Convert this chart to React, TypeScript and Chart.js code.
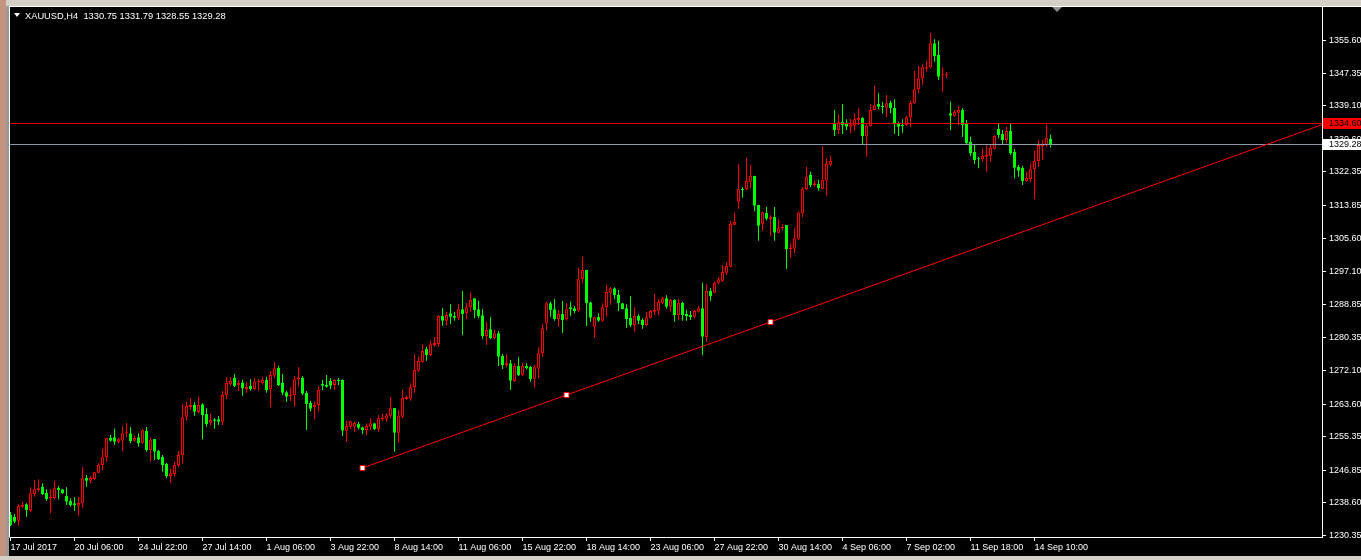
import React, { useEffect, useRef } from "react";
import { Chart, registerables } from "chart.js";

Chart.register(...registerables);

// ---------- data ----------
const symbolTitle = "XAUUSD,H4";
const lastOHLC = ["1330.75", "1331.79", "1328.55", "1329.28"];

const xTickBars = [0, 16, 32, 48, 64, 80, 96, 112, 128, 144, 160, 176, 192, 208, 224, 240, 256];
const xTickLabels = [
  "17 Jul 2017", "20 Jul 06:00", "24 Jul 22:00", "27 Jul 14:00", "1 Aug 06:00", "3 Aug 22:00",
  "8 Aug 14:00", "11 Aug 06:00", "15 Aug 22:00", "18 Aug 14:00", "23 Aug 06:00", "27 Aug 22:00",
  "30 Aug 14:00", "4 Sep 06:00", "7 Sep 02:00", "11 Sep 18:00", "14 Sep 10:00",
];
const yTickValues = [
  1230.35, 1238.6, 1246.85, 1255.35, 1263.6, 1272.1, 1280.35, 1288.85,
  1297.1, 1305.6, 1313.85, 1322.35, 1330.6, 1339.1, 1347.35, 1355.6,
];

const opens = [
  1235.54, 1235.12, 1234.11, 1237.65, 1238.24, 1236.64, 1240.86, 1241.87, 1242.71, 1241.19,
  1239.76, 1239.76, 1242.37, 1242.04, 1240.35, 1239.08, 1238.49, 1237.90, 1238.49, 1244.90,
  1244.23, 1244.57, 1246.25, 1248.19, 1250.13, 1255.11, 1255.19, 1254.10, 1254.35, 1256.20,
  1256.20, 1254.35, 1255.19, 1253.84, 1256.80, 1251.99, 1254.77, 1251.82, 1250.30, 1248.53,
  1245.41, 1245.92, 1248.19, 1250.64, 1260.42, 1262.78, 1263.37, 1261.60, 1263.54, 1261.10,
  1258.90, 1259.75, 1259.75, 1259.16, 1265.90, 1268.60, 1270.29, 1268.35, 1269.02, 1267.34,
  1268.18, 1267.34, 1269.11, 1268.86, 1269.70, 1267.34, 1270.80, 1272.74, 1269.02, 1266.58,
  1265.65, 1265.82, 1269.87, 1270.21, 1266.41, 1263.88, 1262.78, 1263.37, 1268.69, 1268.52,
  1269.45, 1268.43, 1269.78, 1269.70, 1256.88, 1257.89, 1257.89, 1258.57, 1257.72, 1257.05,
  1257.89, 1258.73, 1257.30, 1259.75, 1259.91, 1260.67, 1262.61, 1256.37, 1260.42, 1264.89,
  1264.97, 1267.84, 1272.06, 1274.34, 1277.54, 1276.02, 1278.55, 1278.81, 1285.89, 1284.71,
  1286.57, 1285.89, 1285.47, 1287.58, 1286.57, 1288.08, 1290.36, 1287.58, 1286.06, 1280.83,
  1282.52, 1280.32, 1281.50, 1275.77, 1273.49, 1273.91, 1269.44, 1273.24, 1271.05, 1273.24,
  1273.07, 1270.04, 1272.56, 1276.44, 1284.04, 1289.10, 1287.58, 1285.13, 1286.40, 1285.05,
  1288.08, 1287.83, 1287.24, 1295.17, 1297.53, 1289.35, 1283.19, 1285.72, 1284.71, 1288.08,
  1291.79, 1292.89, 1291.20, 1289.10, 1287.83, 1285.47, 1283.61, 1285.89, 1284.88, 1283.61,
  1285.47, 1286.99, 1287.24, 1289.26, 1290.36, 1288.25, 1289.94, 1286.14, 1289.26, 1286.40,
  1286.14, 1285.72, 1286.99, 1287.83, 1280.49, 1292.22, 1291.80, 1294.33, 1294.84, 1296.86,
  1298.38, 1309.01, 1314.82, 1318.03, 1317.95, 1319.89, 1321.32, 1313.98, 1309.09, 1311.96,
  1310.35, 1310.95, 1306.98, 1308.08, 1308.92, 1302.76, 1302.93, 1305.46, 1311.87, 1317.95,
  1321.57, 1319.04, 1319.30, 1318.11, 1320.14, 1324.19, 1334.48, 1332.96, 1334.98, 1334.64,
  1333.80, 1334.05, 1335.49, 1335.99, 1331.44, 1334.05, 1338.02, 1339.54, 1339.03, 1338.61,
  1339.87, 1338.52, 1334.64, 1334.22, 1334.22, 1336.17, 1339.71, 1343.25, 1346.03, 1348.48,
  1348.81, 1354.89, 1351.93, 1346.79, 1346.79, 1337.17, 1336.58, 1337.34, 1338.02, 1334.48,
  1330.01, 1327.48, 1325.79, 1325.54, 1326.21, 1326.46, 1328.23, 1333.21, 1331.95, 1330.43,
  1332.70, 1327.48, 1323.68, 1323.43, 1320.05, 1320.56, 1323.01, 1325.11, 1328.91, 1329.16,
  1330.75,
];
const highs = [
  1236.30, 1235.79, 1238.24, 1238.92, 1238.49, 1242.54, 1244.40, 1244.57, 1243.55, 1242.04,
  1242.04, 1244.14, 1242.88, 1242.04, 1242.54, 1239.76, 1240.01, 1240.18, 1247.69, 1245.66,
  1245.41, 1246.42, 1248.61, 1252.24, 1255.11, 1255.78, 1257.30, 1255.11, 1258.06, 1258.82,
  1257.72, 1255.53, 1256.20, 1257.22, 1257.81, 1255.19, 1254.77, 1251.99, 1250.72, 1248.78,
  1247.10, 1249.04, 1251.73, 1263.63, 1264.22, 1265.06, 1264.05, 1265.40, 1263.80, 1262.53,
  1261.10, 1260.00, 1260.59, 1266.92, 1270.37, 1270.37, 1271.22, 1269.70, 1269.78, 1269.11,
  1269.87, 1270.29, 1269.87, 1270.54, 1270.54, 1271.98, 1274.25, 1273.33, 1271.22, 1267.00,
  1267.84, 1270.71, 1272.99, 1270.71, 1266.92, 1264.47, 1264.22, 1268.27, 1269.70, 1270.96,
  1270.12, 1269.87, 1270.21, 1269.87, 1259.33, 1259.41, 1259.16, 1259.07, 1257.89, 1258.73,
  1260.00, 1258.73, 1260.76, 1261.09, 1261.26, 1265.31, 1262.61, 1262.11, 1267.17, 1265.65,
  1268.85, 1276.28, 1275.60, 1278.72, 1278.13, 1279.65, 1280.49, 1286.06, 1287.83, 1286.99,
  1288.84, 1286.99, 1288.93, 1292.22, 1289.10, 1291.79, 1290.36, 1289.77, 1287.58, 1284.46,
  1285.55, 1282.35, 1282.10, 1276.28, 1276.28, 1274.76, 1273.91, 1275.43, 1274.08, 1273.91,
  1273.24, 1273.49, 1277.96, 1283.87, 1289.52, 1289.52, 1290.11, 1287.41, 1289.69, 1289.10,
  1289.52, 1288.42, 1298.12, 1300.90, 1297.53, 1289.52, 1285.72, 1286.57, 1289.10, 1293.73,
  1293.14, 1293.14, 1292.47, 1289.26, 1288.84, 1290.95, 1288.08, 1286.31, 1285.30, 1286.99,
  1287.41, 1291.46, 1290.11, 1290.78, 1291.12, 1290.19, 1290.11, 1290.11, 1289.52, 1287.41,
  1287.16, 1287.41, 1288.42, 1294.32, 1293.99, 1292.90, 1294.58, 1295.68, 1298.80, 1299.48,
  1309.93, 1312.04, 1324.36, 1318.45, 1325.96, 1324.10, 1321.40, 1313.98, 1312.29, 1313.56,
  1311.45, 1313.48, 1310.44, 1309.17, 1308.92, 1304.28, 1308.08, 1312.29, 1318.45, 1323.68,
  1322.42, 1320.31, 1320.31, 1328.91, 1325.79, 1326.38, 1338.02, 1337.01, 1339.54, 1335.66,
  1335.74, 1337.17, 1338.44, 1336.17, 1334.39, 1339.54, 1344.09, 1342.24, 1340.13, 1341.81,
  1340.38, 1340.72, 1335.07, 1335.66, 1336.50, 1340.38, 1347.89, 1349.15, 1349.57, 1350.42,
  1357.59, 1355.90, 1355.48, 1348.81, 1347.72, 1340.13, 1338.02, 1339.03, 1338.44, 1335.49,
  1331.27, 1329.16, 1326.21, 1328.32, 1329.16, 1329.16, 1331.69, 1334.48, 1332.96, 1333.80,
  1334.64, 1328.15, 1324.10, 1323.93, 1322.42, 1324.52, 1327.65, 1330.43, 1330.43, 1334.22,
  1331.79,
];
const lows = [
  1232.76, 1233.43, 1232.84, 1237.23, 1235.12, 1236.22, 1240.18, 1241.45, 1240.60, 1239.17,
  1235.96, 1239.51, 1239.51, 1240.86, 1238.07, 1237.65, 1236.64, 1235.37, 1237.40, 1242.71,
  1243.55, 1244.40, 1246.08, 1246.93, 1249.04, 1254.10, 1253.25, 1253.67, 1251.73, 1255.19,
  1253.67, 1254.10, 1252.83, 1253.51, 1251.57, 1249.04, 1249.46, 1249.46, 1246.51, 1244.82,
  1243.72, 1245.24, 1247.60, 1248.61, 1259.41, 1262.11, 1260.68, 1261.27, 1254.69, 1257.89,
  1258.23, 1257.39, 1258.31, 1258.31, 1264.81, 1268.18, 1267.84, 1266.92, 1265.74, 1266.49,
  1267.00, 1267.08, 1267.00, 1268.60, 1266.49, 1262.78, 1270.12, 1268.18, 1265.90, 1264.22,
  1264.47, 1262.95, 1268.01, 1265.90, 1257.05, 1261.77, 1259.75, 1261.69, 1267.17, 1267.76,
  1267.34, 1267.17, 1268.43, 1255.53, 1254.10, 1257.30, 1256.63, 1257.22, 1256.03, 1255.70,
  1257.05, 1257.05, 1256.62, 1259.41, 1259.15, 1260.00, 1251.56, 1253.84, 1260.00, 1264.64,
  1264.47, 1266.49, 1271.81, 1274.08, 1274.59, 1275.77, 1278.13, 1278.13, 1283.36, 1283.61,
  1283.87, 1284.71, 1284.88, 1281.08, 1285.05, 1286.99, 1285.30, 1285.30, 1280.16, 1278.55,
  1279.99, 1279.99, 1273.24, 1272.48, 1272.90, 1267.17, 1269.28, 1270.71, 1270.71, 1272.40,
  1269.28, 1267.84, 1270.12, 1275.60, 1282.35, 1285.72, 1284.71, 1283.19, 1281.67, 1284.71,
  1285.89, 1286.57, 1286.99, 1294.16, 1283.36, 1284.46, 1280.41, 1284.46, 1284.46, 1285.72,
  1288.67, 1290.11, 1287.16, 1287.58, 1282.94, 1283.19, 1281.93, 1283.87, 1282.69, 1283.36,
  1285.30, 1286.14, 1286.14, 1288.93, 1287.75, 1286.99, 1284.46, 1284.88, 1284.71, 1284.71,
  1284.88, 1285.30, 1286.73, 1276.02, 1279.40, 1289.78, 1291.63, 1293.99, 1294.50, 1296.27,
  1298.21, 1308.92, 1312.97, 1315.84, 1317.78, 1318.20, 1312.46, 1304.96, 1307.49, 1310.10,
  1306.22, 1304.96, 1306.81, 1307.66, 1297.87, 1300.66, 1301.75, 1305.13, 1310.86, 1317.78,
  1318.45, 1318.62, 1317.61, 1317.95, 1316.34, 1323.85, 1331.44, 1331.95, 1331.95, 1332.96,
  1332.28, 1332.79, 1334.22, 1329.16, 1326.21, 1333.80, 1338.02, 1338.19, 1337.17, 1336.17,
  1337.17, 1331.95, 1331.44, 1332.28, 1333.97, 1333.80, 1339.54, 1342.24, 1344.34, 1347.72,
  1348.56, 1350.25, 1345.61, 1342.66, 1346.03, 1332.96, 1336.33, 1334.22, 1331.27, 1329.16,
  1326.38, 1324.36, 1323.26, 1324.95, 1322.42, 1324.95, 1328.07, 1330.85, 1329.42, 1329.58,
  1326.63, 1320.73, 1321.15, 1319.04, 1319.89, 1319.72, 1315.50, 1323.68, 1325.37, 1328.74,
  1328.55,
];
const closes = [
  1233.01, 1233.85, 1237.82, 1238.16, 1236.81, 1241.02, 1242.04, 1242.29, 1240.86, 1239.59,
  1240.18, 1242.29, 1241.87, 1241.02, 1238.92, 1238.07, 1237.99, 1238.58, 1244.82, 1244.23,
  1244.90, 1246.34, 1248.19, 1250.13, 1254.94, 1254.35, 1254.10, 1254.69, 1256.20, 1256.37,
  1254.27, 1255.02, 1253.67, 1256.96, 1251.99, 1254.52, 1251.57, 1249.63, 1248.19, 1245.41,
  1246.08, 1248.19, 1250.72, 1260.25, 1263.12, 1263.37, 1261.69, 1263.37, 1260.84, 1258.57,
  1259.58, 1259.41, 1259.16, 1265.90, 1269.02, 1269.53, 1268.18, 1269.02, 1267.59, 1268.01,
  1267.34, 1269.28, 1269.28, 1269.70, 1267.17, 1270.96, 1272.65, 1268.43, 1266.49, 1265.48,
  1265.90, 1269.87, 1270.37, 1266.24, 1263.63, 1262.45, 1263.37, 1267.17, 1268.27, 1268.01,
  1268.27, 1269.70, 1269.45, 1256.88, 1258.06, 1259.24, 1258.82, 1257.64, 1257.05, 1258.06,
  1258.73, 1257.30, 1260.00, 1260.17, 1260.76, 1262.53, 1256.37, 1260.59, 1265.14, 1265.40,
  1267.84, 1272.23, 1274.50, 1277.03, 1276.02, 1278.72, 1279.06, 1285.89, 1284.71, 1286.14,
  1285.72, 1285.47, 1287.58, 1286.40, 1288.08, 1289.94, 1287.41, 1285.89, 1280.83, 1282.35,
  1280.24, 1281.50, 1275.60, 1273.49, 1273.91, 1269.53, 1273.24, 1270.96, 1273.24, 1272.65,
  1269.95, 1272.90, 1276.44, 1282.77, 1289.10, 1287.41, 1285.13, 1286.40, 1284.88, 1287.58,
  1287.58, 1287.16, 1295.17, 1297.53, 1289.10, 1285.47, 1285.55, 1284.71, 1288.08, 1291.96,
  1292.89, 1291.20, 1289.10, 1287.66, 1285.13, 1283.61, 1285.89, 1284.71, 1283.61, 1285.55,
  1287.16, 1287.41, 1289.52, 1290.36, 1288.25, 1289.94, 1286.14, 1289.26, 1286.14, 1285.89,
  1285.55, 1287.16, 1287.83, 1280.66, 1292.22, 1290.96, 1294.33, 1295.17, 1297.03, 1298.55,
  1309.17, 1309.68, 1317.95, 1317.78, 1320.05, 1321.40, 1313.81, 1308.75, 1312.13, 1310.52,
  1310.86, 1306.98, 1308.08, 1308.50, 1302.76, 1303.19, 1305.55, 1312.04, 1318.03, 1321.15,
  1319.04, 1319.46, 1318.20, 1320.31, 1324.36, 1325.11, 1332.96, 1334.90, 1334.22, 1333.80,
  1334.39, 1335.66, 1336.08, 1331.44, 1334.05, 1338.02, 1339.20, 1338.86, 1338.69, 1339.71,
  1338.44, 1334.48, 1333.80, 1333.97, 1336.17, 1339.87, 1343.25, 1346.03, 1348.81, 1348.81,
  1354.89, 1351.68, 1346.45, 1347.04, 1347.04, 1336.58, 1337.60, 1338.02, 1334.22, 1329.58,
  1327.05, 1325.37, 1325.54, 1326.38, 1326.63, 1328.49, 1331.44, 1331.69, 1330.43, 1332.70,
  1327.05, 1323.43, 1322.67, 1320.05, 1320.90, 1323.01, 1325.11, 1329.16, 1329.16, 1331.02,
  1329.28,
];

const hLinePrice = 1334.6;
const bidPrice = 1329.28;
const trendBars = [88, 190];
const trendPrices = [1247.43, 1284.37];

// ---------- styling / layout ----------
const W = 1361;
const H = 560;
const X_MIN = -0.125;
const X_MAX = 327.875;
const Y_MIN = 1229.97;
const Y_MAX = 1364.08;
const BULL = "#ff0000";
const BEAR = "#00ff00";
const FONT = '"Liberation Sans", Arial, sans-serif';

export default function App() {
  const canvasRef = useRef<HTMLCanvasElement | null>(null);

  useEffect(() => {
    const canvas = canvasRef.current;
    if (!canvas) return;

    const bull = opens.map((o, i) => closes[i] >= o);
    const bodies = opens.map((o, i) => ({
      x: i,
      y: [Math.min(o, closes[i]), Math.max(o, closes[i])],
    }));
    const wicks = opens.map((_, i) => ({ x: i, y: [lows[i], highs[i]] }));

    const slope = (trendPrices[1] - trendPrices[0]) / (trendBars[1] - trendBars[0]);
    const midBar = (trendBars[0] + trendBars[1]) / 2;
    const trendData = [
      { x: trendBars[0], y: trendPrices[0] },
      { x: midBar, y: trendPrices[0] + slope * (midBar - trendBars[0]) },
      { x: trendBars[1], y: trendPrices[1] },
      { x: X_MAX, y: trendPrices[0] + slope * (X_MAX - trendBars[0]) },
    ];

    const overlay = {
      id: "mtOverlay",
      afterDraw(chart: any) {
        const ctx = chart.ctx as CanvasRenderingContext2D;
        const a = chart.chartArea;
        const ys = chart.scales.y;
        ctx.save();
        ctx.strokeStyle = "#ffffff";
        ctx.lineWidth = 1;
        ctx.beginPath();
        ctx.moveTo(a.left - 0.5, a.top - 0.5);
        ctx.lineTo(a.left - 0.5, a.bottom + 0.5);
        ctx.stroke();
        const boxes = [
          { p: hLinePrice, bg: "#ff0000", fg: "#000000" },
          { p: bidPrice, bg: "#ffffff", fg: "#000000" },
        ];
        ctx.font = `9px ${FONT}`;
        ctx.textBaseline = "middle";
        ctx.textAlign = "left";
        for (const b of boxes) {
          const y = Math.round(ys.getPixelForValue(b.p) - 0.5);
          ctx.fillStyle = b.bg;
          ctx.fillRect(a.right + 1, y - 5, W - a.right - 1, 11);
          ctx.fillStyle = b.fg;
          ctx.fillText(b.p.toFixed(2), a.right + 7, y + 0.5);
        }
        ctx.restore();
      },
    };

    const chart = new Chart(canvas, {
      type: "bar",
      data: {
        datasets: [
          {
            type: "line",
            data: trendData,
            borderColor: "#ff0000",
            borderWidth: 1,
            pointRadius: [3.5, 3.5, 3.5, 0],
            pointStyle: "rect",
            pointBackgroundColor: "#ffffff",
            pointBorderColor: "#ff0000",
            pointBorderWidth: 1,
            tension: 0,
            order: 0,
          } as any,
          {
            type: "line",
            data: [
              { x: X_MIN, y: hLinePrice },
              { x: X_MAX, y: hLinePrice },
            ],
            borderColor: "#e00000",
            borderWidth: 1,
            pointRadius: 0,
            order: 0,
          } as any,
          {
            type: "line",
            data: [
              { x: X_MIN, y: bidPrice },
              { x: X_MAX, y: bidPrice },
            ],
            borderColor: "#8a9aab",
            borderWidth: 1,
            pointRadius: 0,
            order: 0,
          } as any,
          {
            type: "bar",
            data: bodies as any,
            backgroundColor: bull.map((b) => (b ? "#000000" : BEAR)),
            borderColor: bull.map((b) => (b ? BULL : BEAR)),
            borderWidth: 1,
            borderSkipped: false,
            barThickness: 3,
            minBarLength: 1,
            grouped: false,
            inflateAmount: 0,
            order: 1,
          } as any,
          {
            type: "bar",
            data: wicks as any,
            backgroundColor: bull.map((b) => (b ? BULL : BEAR)),
            borderWidth: 0,
            barThickness: 1,
            grouped: false,
            inflateAmount: 0,
            order: 2,
          } as any,
        ],
      },
      options: {
        animation: false,
        responsive: false,
        devicePixelRatio: 1,
        events: [],
        layout: { padding: { left: 10, top: 7, right: 0, bottom: 0 } },
        plugins: { legend: { display: false }, tooltip: { enabled: false } },
        scales: {
          x: {
            type: "linear",
            min: X_MIN,
            max: X_MAX,
            offset: false,
            afterBuildTicks: (scale: any) => {
              scale.ticks = xTickBars.map((v) => ({ value: v }));
            },
            afterFit: (scale: any) => {
              scale.height = 23;
              scale.paddingLeft = 0;
              scale.paddingRight = 0;
            },
            grid: {
              offset: false,
              drawOnChartArea: false,
              drawTicks: true,
              tickLength: 4,
              color: "#ffffff",
            },
            border: { display: true, color: "#ffffff", width: 1 },
            ticks: {
              autoSkip: false,
              maxRotation: 0,
              minRotation: 0,
              align: "start",
              padding: 1,
              color: "#ffffff",
              font: { family: FONT, size: 9 },
              callback: (v: any) => {
                const k = xTickBars.indexOf(Number(v));
                return k >= 0 ? xTickLabels[k] : "";
              },
            },
          },
          y: {
            type: "linear",
            position: "right",
            min: Y_MIN,
            max: Y_MAX,
            afterBuildTicks: (scale: any) => {
              scale.ticks = yTickValues.map((v) => ({ value: v }));
            },
            afterFit: (scale: any) => {
              scale.width = 39;
              scale.paddingTop = 0;
              scale.paddingBottom = 0;
            },
            grid: {
              drawOnChartArea: false,
              drawTicks: true,
              tickLength: 4,
              color: "#ffffff",
            },
            border: { display: true, color: "#ffffff", width: 1 },
            ticks: {
              padding: 3,
              color: "#ffffff",
              font: { family: FONT, size: 9 },
              callback: (v: any) => Number(v).toFixed(2),
            },
          },
        },
      } as any,
      plugins: [overlay],
    });

    return () => chart.destroy();
  }, []);

  return (
    <div
      style={{
        position: "fixed",
        left: 0,
        top: 0,
        width: W,
        height: H,
        background: "#000000",
        overflow: "hidden",
      }}
    >
      <canvas
        ref={canvasRef}
        width={W}
        height={H}
        style={{ position: "absolute", left: 0, top: 0, width: W, height: H }}
      />
      <div style={{ position: "absolute", left: 0, top: 0, width: W, height: 6, background: "#d4d0c8" }} />
      <div style={{ position: "absolute", left: 0, top: 6, width: W, height: 1, background: "#ffffff" }} />
      <div style={{ position: "absolute", left: 0, top: 0, width: 6, height: H, background: "#c39480" }} />
      <div style={{ position: "absolute", left: 6, top: 6, width: 3, height: H - 6, background: "#9a9a9a" }} />
      <div style={{ position: "absolute", left: 0, top: 556, width: W, height: 4, background: "#d4d0c8" }} />
      <div
        style={{
          position: "absolute",
          left: 14,
          top: 13,
          width: 0,
          height: 0,
          borderLeft: "3px solid transparent",
          borderRight: "3px solid transparent",
          borderTop: "4px solid #ffffff",
        }}
      />
      <div
        style={{
          position: "absolute",
          left: 25,
          top: 10,
          color: "#ffffff",
          font: `9.3px ${FONT}`,
          lineHeight: "12px",
          whiteSpace: "pre",
        }}
      >
        {`${symbolTitle}  ${lastOHLC.join(" ")}`}
      </div>
      <div
        style={{
          position: "absolute",
          left: 1052,
          top: 7,
          width: 0,
          height: 0,
          borderLeft: "5px solid transparent",
          borderRight: "5px solid transparent",
          borderTop: "5px solid #8c8c8c",
        }}
      />
    </div>
  );
}
